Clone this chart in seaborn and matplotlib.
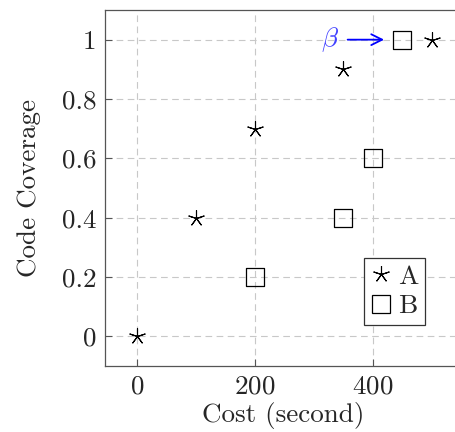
import matplotlib
matplotlib.use('Agg')
import matplotlib.pyplot as plt
import seaborn as sns
from matplotlib.lines import Line2D

# data
a_cost = [0, 100, 200, 350, 500]
a_cov = [0, 0.4, 0.7, 0.9, 1.0]
b_cost = [200, 350, 400, 450]
b_cov = [0.2, 0.4, 0.6, 1.0]
x_ticks = [0, 200, 400]
y_ticks = [0, 0.2, 0.4, 0.6, 0.8, 1.0]
y_tick_labels = ['0', '0.2', '0.4', '0.6', '0.8', '1']
note_text = r'$\beta$'
note_target = (450, 1.0)
note_pos = (327, 1.0)

sns.set_style('ticks')
plt.rcParams['font.family'] = 'serif'
plt.rcParams['font.serif'] = ['cmr10']
plt.rcParams['mathtext.fontset'] = 'cm'
plt.rcParams['axes.formatter.use_mathtext'] = True

FS = 19.5

fig = plt.figure(figsize=(4.55, 4.32), dpi=100)
ax = fig.add_axes([105 / 455, 1 - 366 / 432, (461 - 105) / 455, (366 - 10) / 432])

star = (5, 2, 0)
sns.scatterplot(x=a_cost, y=a_cov, marker=star, s=130, color='black',
                edgecolor='black', linewidth=0.8, ax=ax, zorder=3)
sns.scatterplot(x=b_cost, y=b_cov, marker='s', s=170, facecolor='none',
                edgecolor='black', linewidth=0.9, ax=ax, zorder=3)

ax.set_xlim(-55, 550)
ax.set_ylim(-0.1, 1.1)
ax.set_xticks(x_ticks)
ax.set_yticks(y_ticks)
ax.set_yticklabels(y_tick_labels)
ax.tick_params(direction='in', length=5, width=0.8, color='#555555',
               labelsize=FS, pad=6)
ax.grid(True, color='#c8c8c8', linestyle=(0, (6, 4)), linewidth=0.8)
ax.set_axisbelow(True)
for sp in ax.spines.values():
    sp.set_color('#555555')
    sp.set_linewidth(0.9)
ax.spines['right'].set_visible(False)

ax.set_xlabel('Cost (second)', fontsize=FS, labelpad=3)
ax.set_ylabel('Code Coverage', fontsize=FS, labelpad=15)

ax.annotate(note_text, xy=note_target, xytext=note_pos, color='#4040ff',
            fontsize=FS, ha='center', va='center',
            arrowprops=dict(arrowstyle='->', color='blue', lw=1.3,
                            shrinkA=4, shrinkB=13))

handles = [
    Line2D([], [], linestyle='none', marker=star, markersize=12,
           color='black', markeredgewidth=0.8),
    Line2D([], [], linestyle='none', marker='s', markersize=13,
           markerfacecolor='none', markeredgecolor='black', markeredgewidth=0.9),
]
leg = ax.legend(handles, ['A', 'B'], loc='upper left',
                bbox_to_anchor=(0.727, 0.303), fontsize=FS, frameon=True,
                fancybox=False, handlelength=0.8, handletextpad=0.2,
                borderpad=0.25, labelspacing=0.2, borderaxespad=0)
leg.get_frame().set_edgecolor('#333333')
leg.get_frame().set_linewidth(0.9)
leg.get_frame().set_alpha(1)

fig.savefig('out.png', dpi=100)
